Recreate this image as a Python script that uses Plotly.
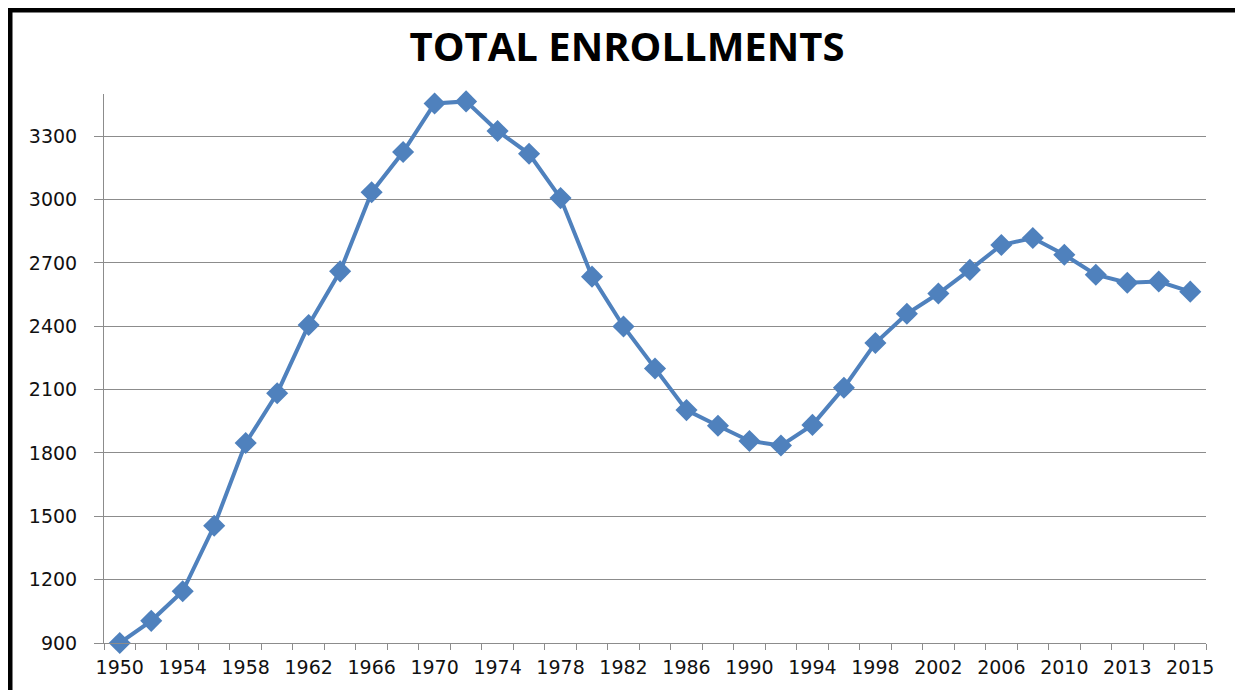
import plotly.graph_objects as go

years = ["1950", "1952", "1954", "1956", "1958", "1960", "1962", "1964", "1966", "1968",
         "1970", "1972", "1974", "1976", "1978", "1980", "1982", "1984", "1986", "1988",
         "1990", "1992", "1994", "1996", "1998", "2000", "2002", "2004", "2006", "2008",
         "2010", "2012", "2013", "2014", "2015"]
enrollments = [900, 1005, 1145, 1455, 1847, 2083, 2406, 2660, 3035, 3225,
               3455, 3465, 3325, 3217, 3007, 2635, 2399, 2200, 2003, 1929,
               1857, 1835, 1933, 2109, 2321, 2459, 2555, 2667, 2785, 2818,
               2739, 2644, 2606, 2612, 2564]
y_ticks = [900, 1200, 1500, 1800, 2100, 2400, 2700, 3000, 3300]
title_text = "TOTAL ENROLLMENTS"

idx = list(range(len(years)))
label_idx = idx[::2]
label_text = [years[i] for i in label_idx]

OFF = 8  # page body margin
PW, PH = 1243, 690
W, H = PW - OFF, PH - OFF
# plot area in page pixels
pl, pr, pt, pb = 104, 1206, 94, 643
L, R, T, B = pl - OFF, PW - pr, pt - OFF, PH - pb
pw, ph = pr - pl, pb - pt

def px(xp):
    return (xp - pl) / pw

def py(yp):
    return (pb - yp) / ph

fig = go.Figure()
fig.add_trace(go.Scatter(
    x=idx, y=enrollments, mode="lines+markers",
    line=dict(color="#4F81BD", width=4),
    marker=dict(symbol="diamond", size=17, color="#4F81BD"),
    showlegend=False, cliponaxis=False,
))

grid = "#8c8c8c"
tick_font = dict(family="DejaVu Sans", size=19, color="#111111")
fig.update_layout(
    width=W, height=H,
    margin=dict(l=L, r=R, t=T, b=B),
    paper_bgcolor="white", plot_bgcolor="white",
    title=dict(text=title_text, x=px(627), xref="paper", xanchor="center",
               y=1 - (47 - OFF) / H, yref="container", yanchor="middle",
               font=dict(family="Open Sans", size=40, color="black", weight="bold")),
    xaxis=dict(range=[-0.5, len(years) - 0.5], tickmode="array", tickvals=label_idx,
               ticktext=label_text, ticks="", showgrid=False, zeroline=False,
               showline=True, linecolor=grid, linewidth=1, tickfont=tick_font,
               ticklabelstandoff=7,
               minor=dict(tickmode="linear", tick0=-0.5, dtick=1, ticks="outside",
                          ticklen=6, tickcolor=grid, tickwidth=1, showgrid=False)),
    yaxis=dict(range=[900, 3500], tickmode="array", tickvals=y_ticks,
               ticks="outside", ticklen=9, tickcolor=grid, tickwidth=1,
               showgrid=True, gridcolor=grid, gridwidth=1, zeroline=False,
               showline=True, linecolor=grid, linewidth=1, tickfont=tick_font,
               ticklabelstandoff=13),
)

# chart frame (page pixel positions)
x0, x1, y0, y1 = px(10), px(1240), py(10), py(700)
fig.add_shape(type="line", xref="paper", yref="paper", x0=x0, x1=x0, y0=y1, y1=y0,
              line=dict(color="black", width=5))
fig.add_shape(type="line", xref="paper", yref="paper", x0=x0 - 0.003, x1=x1, y0=y0, y1=y0,
              line=dict(color="black", width=5))
fig.add_shape(type="line", xref="paper", yref="paper", x0=x1, x1=x1, y0=y1, y1=y0,
              line=dict(color="#333333", width=2))

fig.write_html("out.html")
